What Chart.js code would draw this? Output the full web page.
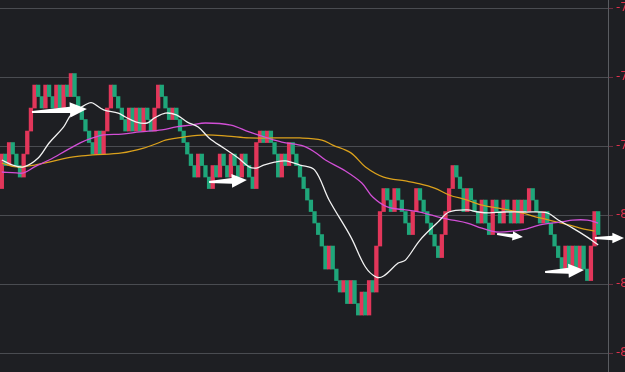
<!DOCTYPE html>
<html>
<head>
<meta charset="utf-8">
<script src="https://cdn.jsdelivr.net/npm/chart.js@4.4.1/dist/chart.umd.min.js"></script>
<style>
html, body { margin: 0; padding: 0; background: #1e1f23; overflow: hidden; }
</style>
</head>
<body>
<canvas id="grafico" width="625" height="372"></canvas>
<script>
// cierre de cada ladrillo, la apertura es el cierre anterior
const aperturaInicial = -7.985
const closes = [
  -7.835,-7.885,-7.785,-7.835,-7.885,-7.935,-7.835,-7.735,-7.635,-7.535,
  -7.585,-7.635,-7.535,-7.585,-7.635,-7.535,-7.635,-7.535,-7.585,-7.485,
  -7.585,-7.635,-7.685,-7.735,-7.785,-7.835,-7.735,-7.835,-7.735,-7.635,
  -7.535,-7.585,-7.635,-7.685,-7.735,-7.635,-7.735,-7.635,-7.735,-7.635,
  -7.685,-7.735,-7.635,-7.535,-7.585,-7.635,-7.685,-7.635,-7.685,-7.735,
  -7.785,-7.835,-7.885,-7.935,-7.835,-7.885,-7.935,-7.985,-7.885,-7.935,
  -7.835,-7.885,-7.935,-7.835,-7.885,-7.935,-7.835,-7.885,-7.935,-7.985,
  -7.785,-7.735,-7.785,-7.735,-7.785,-7.835,-7.935,-7.835,-7.885,-7.785,
  -7.835,-7.885,-7.935,-7.985,-8.035,-8.085,-8.135,-8.185,-8.235,-8.335,
  -8.235,-8.335,-8.385,-8.435,-8.385,-8.485,-8.385,-8.485,-8.535,-8.435,
  -8.535,-8.385,-8.435,-8.235,-8.085,-7.985,-8.035,-8.085,-7.985,-8.035,
  -8.085,-8.135,-8.185,-8.085,-7.985,-8.035,-8.085,-8.135,-8.185,-8.235,
  -8.285,-8.185,-8.085,-7.985,-7.885,-7.935,-7.985,-8.085,-7.985,-8.035,
  -8.085,-8.135,-8.035,-8.135,-8.185,-8.035,-8.085,-8.135,-8.035,-8.085,
  -8.135,-8.035,-8.135,-8.035,-8.085,-7.985,-8.035,-8.085,-8.135,-8.085,
  -8.135,-8.185,-8.235,-8.285,-8.335,-8.235,-8.335,-8.235,-8.335,-8.235,
  -8.335,-8.385,-8.235,-8.085,-8.185
]

// medias moviles (indice de ladrillo, valor)
const ma1x = [0,3,6,10,13,17,19,22,24,25,28,32,34,37,40,42,45,48,51,54,57,61,65,68,70,72,75,78,82,86,90,96,100,103,105,109,111,115,120,123,128,131,134,138,144,150,153,157,161,164]
const ma1 = [-7.861,-7.883,-7.891,-7.852,-7.787,-7.717,-7.665,-7.630,-7.613,-7.613,-7.643,-7.657,-7.674,-7.696,-7.700,-7.678,-7.657,-7.665,-7.696,-7.717,-7.765,-7.809,-7.852,-7.891,-7.896,-7.883,-7.870,-7.865,-7.883,-7.904,-8.035,-8.196,-8.326,-8.370,-8.365,-8.309,-8.296,-8.209,-8.130,-8.087,-8.078,-8.087,-8.091,-8.087,-8.087,-8.091,-8.122,-8.157,-8.196,-8.230]
const ma2x = [0,4,6,9,13,18,22,25,28,33,38,44,48,52,56,63,68,73,77,83,86,89,94,99,102,106,111,115,121,124,128,132,136,143,148,154,157,161,164]
const ma2 = [-7.913,-7.917,-7.917,-7.891,-7.861,-7.817,-7.783,-7.765,-7.752,-7.748,-7.739,-7.730,-7.717,-7.709,-7.700,-7.709,-7.739,-7.765,-7.783,-7.800,-7.826,-7.861,-7.904,-7.961,-8.022,-8.065,-8.078,-8.087,-8.113,-8.122,-8.135,-8.157,-8.174,-8.165,-8.143,-8.130,-8.122,-8.122,-8.135]
const ma3x = [0,4,9,13,18,22,25,33,39,43,45,50,56,62,68,75,82,88,91,96,100,105,111,114,119,123,128,132,138,143,148,154,159,163]
const ma3 = [-7.874,-7.891,-7.883,-7.870,-7.852,-7.843,-7.839,-7.830,-7.809,-7.787,-7.774,-7.761,-7.752,-7.757,-7.765,-7.765,-7.765,-7.774,-7.796,-7.830,-7.891,-7.935,-7.952,-7.961,-7.983,-8.013,-8.035,-8.057,-8.074,-8.091,-8.113,-8.135,-8.157,-8.170]

const tickValues = [-7.2, -7.5, -7.8, -8.1, -8.4, -8.7]

// flechas: [x cola, y cola, x punta, y punta]
const flechas = [
  [8.3, -7.652, 23.4, -7.639],
  [57.0, -7.957, 67.4, -7.948],
  [136.2, -8.183, 143.3, -8.196],
  [149.4, -8.348, 160.1, -8.339],
  [163.1, -8.2, 171.1, -8.2]
]

const divGrafico = document.querySelector('#grafico')

const ladrillos = []
const colores = []
let anterior = aperturaInicial
closes.forEach((c, i) => {
  ladrillos.push({x: i, y: [anterior, c]})
  colores.push(c > anterior ? '#e2365a' : '#1fa67a')
  anterior = c
})

const toPts = (xs, ys) => xs.map((x, i) => ({x: x, y: ys[i]}))

const pluginFlechas = {
  id: 'flechas',
  afterDatasetsDraw(chart) {
    const ctx = chart.ctx
    const sx = chart.scales.x, sy = chart.scales.y
    ctx.save()
    ctx.fillStyle = '#ffffff'
    flechas.forEach(f => {
      const x0 = sx.getPixelForValue(f[0]), y0 = sy.getPixelForValue(f[1])
      const x1 = sx.getPixelForValue(f[2]), y1 = sy.getPixelForValue(f[3])
      const len = Math.hypot(x1 - x0, y1 - y0)
      const ux = (x1 - x0) / len, uy = (y1 - y0) / len
      const nx = -uy, ny = ux
      const hl = Math.min(17, len * 0.4)
      const hw = hl * 0.45
      const sw = Math.max(2, hw * 0.42)
      const bx = x1 - ux * hl, by = y1 - uy * hl
      ctx.beginPath()
      ctx.moveTo(x0 + nx * 1, y0 + ny * 1)
      ctx.lineTo(bx + nx * sw, by + ny * sw)
      ctx.lineTo(bx + nx * hw, by + ny * hw)
      ctx.lineTo(x1, y1)
      ctx.lineTo(bx - nx * hw, by - ny * hw)
      ctx.lineTo(bx - nx * sw, by - ny * sw)
      ctx.lineTo(x0 - nx * 1, y0 - ny * 1)
      ctx.closePath()
      ctx.fill()
    })
    ctx.restore()
  }
}

const lineaBase = {type: 'line', pointRadius: 0, borderWidth: 1.3, tension: 0.35, fill: false, order: 0}

const chart = new Chart(divGrafico, {
  data: {
    datasets: [
      Object.assign({}, lineaBase, {label: 'MA1', data: toPts(ma1x, ma1), borderColor: '#f2f2f2'}),
      Object.assign({}, lineaBase, {label: 'MA2', data: toPts(ma2x, ma2), borderColor: '#d24fd6'}),
      Object.assign({}, lineaBase, {label: 'MA3', data: toPts(ma3x, ma3), borderColor: '#dba11c'}),
      {type: 'bar', label: 'renko', data: ladrillos, backgroundColor: colores, borderWidth: 0,
        barPercentage: 1, categoryPercentage: 1, order: 1}
    ]
  },
  options: {
    responsive: false,
    animation: false,
    layout: {padding: 0},
    plugins: {legend: {display: false}, tooltip: {enabled: false}},
    scales: {
      x: {type: 'linear', min: -0.5, max: 166.7, offset: false, display: false},
      y: {
        position: 'right',
        min: -8.7826,
        max: -7.1652,
        afterBuildTicks: s => { s.ticks = tickValues.map(v => ({value: v})) },
        afterFit: s => { s.width = 17; s.paddingTop = 0; s.paddingBottom = 0 },
        grid: {color: '#4a4c51', tickLength: 5, tickColor: '#6a3040'},
        border: {color: '#5a5c61'},
        ticks: {color: '#e0304c', padding: 3, font: {size: 12, family: 'DejaVu Sans'},
          callback: v => v.toFixed(2)}
      }
    }
  },
  plugins: [pluginFlechas]
})
</script>
</body>
</html>
